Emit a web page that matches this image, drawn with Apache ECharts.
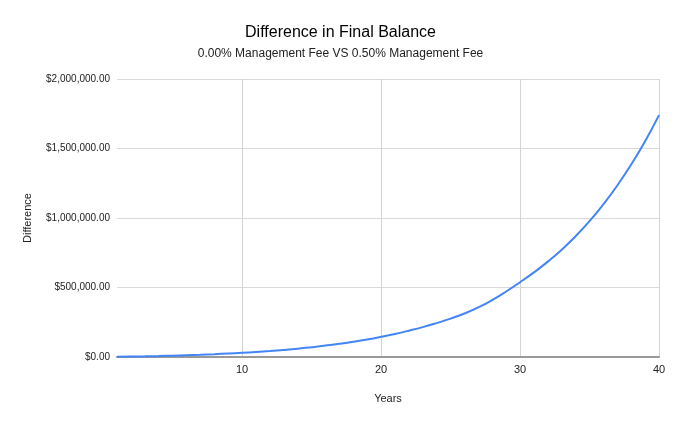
<!DOCTYPE html>
<html>
<head>
<meta charset="utf-8">
<script src="https://cdn.jsdelivr.net/npm/echarts@6/dist/echarts.min.js"></script>
<style>
  html, body { margin: 0; padding: 0; background: #fff; }
  #chart { width: 681px; height: 421px; }
</style>
</head>
<body>
<div id="chart"></div>
<script>
// years 1..40
var years = [];
for (var y = 1; y <= 40; y++) years.push(y);

// difference in final balance
var difference = [
  1400, 3000, 4900, 7200, 9800, 12900, 16400, 20500, 25200, 30400,
  36200, 43000, 51000, 60000, 70500, 82000, 95000, 109500, 126000, 145000,
  166000, 189500, 215000, 244000, 276000, 313000, 357000, 410000, 471000, 538000,
  609000, 686000, 772000, 869000, 977000, 1099000, 1234000, 1385000, 1552000, 1740000
];

var titleText = 'Difference in Final Balance';
var subtitleText = '0.00% Management Fee VS 0.50% Management Fee';
var xName = 'Years';
var yName = 'Difference';

var chart = echarts.init(document.getElementById('chart'));

function money(v) {
  return '$' + v.toLocaleString('en-US', { minimumFractionDigits: 2, maximumFractionDigits: 2 });
}

chart.setOption({
  animation: false,
  textStyle: { fontFamily: 'Liberation Sans, Arial, sans-serif' },
  title: {
    text: titleText,
    subtext: subtitleText,
    left: 'center',
    top: 20,
    itemGap: 7,
    textStyle: { fontSize: 16, fontWeight: 'normal', color: '#000' },
    subtextStyle: { fontSize: 12, color: '#222' }
  },
  grid: { left: 117, right: 22, top: 79, bottom: 64, containLabel: false },
  xAxis: {
    type: 'category',
    data: years,
    boundaryGap: false,
    name: xName,
    nameLocation: 'middle',
    nameGap: 36,
    nameTextStyle: { fontSize: 11, color: '#222' },
    axisLine: { lineStyle: { color: '#999', width: 2 } },
    axisTick: { show: false },
    axisLabel: {
      fontSize: 11,
      color: '#222',
      margin: 7,
      interval: function (i, v) { return v % 10 === 0; }
    },
    splitLine: {
      show: true,
      interval: function (i, v) { return v % 10 === 0; },
      lineStyle: { color: '#d4d4d4', width: 1 }
    }
  },
  yAxis: {
    type: 'value',
    min: 0,
    max: 2000000,
    interval: 500000,
    name: yName,
    nameLocation: 'middle',
    nameGap: 84,
    nameTextStyle: { fontSize: 11, color: '#222' },
    axisLine: { show: false },
    axisTick: { show: false },
    axisLabel: { fontSize: 10, color: '#222', margin: 7, formatter: money },
    splitLine: { lineStyle: { color: '#d9d9d9', width: 1 } }
  },
  series: [{
    type: 'line',
    data: difference,
    smooth: true,
    showSymbol: false,
    lineStyle: { color: '#4285f4', width: 2 },
    itemStyle: { color: '#4285f4' }
  }]
});
</script>
</body>
</html>
